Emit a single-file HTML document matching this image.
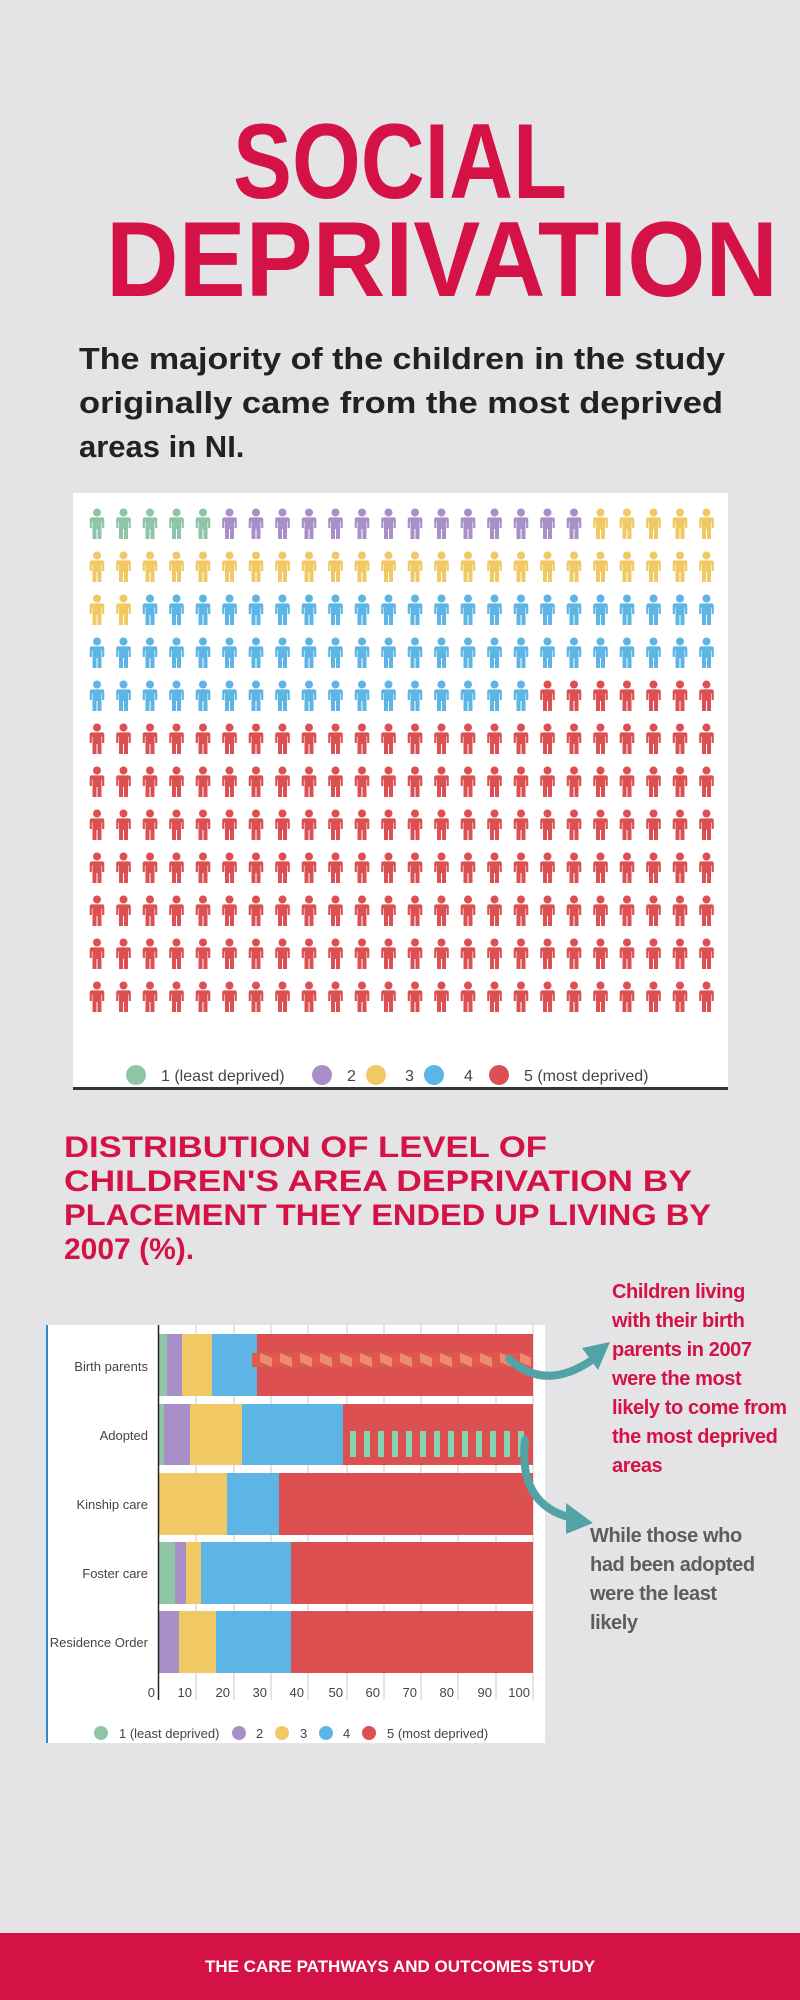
<!DOCTYPE html>
<html><head><meta charset="utf-8"><style>
html,body{margin:0;padding:0;background:#e4e4e6;}
svg{display:block}
</style></head><body>
<svg width="800" height="2000" viewBox="0 0 800 2000" xmlns="http://www.w3.org/2000/svg" font-family="Liberation Sans, sans-serif">
<defs>
<path id="ic" d="M3.2,11.5 Q3.2,9.4 5.3,9.4 H15.7 Q17.8,9.4 17.8,11.5 V20 H15.6 V13.5 H15 V31 H11 V21 H10 V31 H6 V13.5 H5.4 V20 H3.2 Z M10.5,0.5 A4,4 0 1 1 10.49,0.5 Z"/>
<pattern id="pg" patternUnits="userSpaceOnUse" x="86.5" y="508" width="26.5" height="43"><use href="#ic" fill="#8dc5a6"/></pattern>
<pattern id="pp" patternUnits="userSpaceOnUse" x="86.5" y="508" width="26.5" height="43"><use href="#ic" fill="#a98fc7"/></pattern>
<pattern id="py" patternUnits="userSpaceOnUse" x="86.5" y="508" width="26.5" height="43"><use href="#ic" fill="#f0c965"/></pattern>
<pattern id="pb" patternUnits="userSpaceOnUse" x="86.5" y="508" width="26.5" height="43"><use href="#ic" fill="#5cb5e4"/></pattern>
<pattern id="pr" patternUnits="userSpaceOnUse" x="86.5" y="508" width="26.5" height="43"><use href="#ic" fill="#dc5052"/></pattern>
<pattern id="zig" patternUnits="userSpaceOnUse" x="252" y="1353" width="20" height="14"><rect width="20" height="14" fill="#e05a4c"/><polygon points="8,0 20,5 20,14 8,9" fill="#ee8a74"/></pattern>
<pattern id="gb" patternUnits="userSpaceOnUse" x="350" y="1431" width="14" height="26"><rect width="6" height="26" fill="#86d3b0"/></pattern>
</defs>

<!-- Title -->
<text x="233" y="198" font-size="107" font-weight="bold" fill="#d51245" textLength="334" lengthAdjust="spacingAndGlyphs">SOCIAL</text>
<text x="106" y="296" font-size="107" font-weight="bold" fill="#d51245" textLength="672" lengthAdjust="spacingAndGlyphs">DEPRIVATION</text>

<g font-size="31" font-weight="bold" fill="#222">
<text x="79" y="369" textLength="646" lengthAdjust="spacingAndGlyphs">The majority of the children in the study</text>
<text x="79" y="413" textLength="644" lengthAdjust="spacingAndGlyphs">originally came from the most deprived</text>
<text x="79" y="457">areas in NI.</text>
</g>

<!-- Pictogram panel -->
<rect x="73" y="493" width="655" height="597" fill="#fff"/>
<rect x="73" y="1087" width="655" height="3" fill="#333"/>
<rect x="86.5" y="508" width="132.5" height="32" fill="url(#pg)"/>
<rect x="219" y="508" width="371" height="32" fill="url(#pp)"/>
<rect x="590" y="508" width="133" height="32" fill="url(#py)"/>
<rect x="86.5" y="551" width="636" height="32" fill="url(#py)"/>
<rect x="86.5" y="594" width="53" height="32" fill="url(#py)"/>
<rect x="139.5" y="594" width="583" height="32" fill="url(#pb)"/>
<rect x="86.5" y="637" width="636" height="32" fill="url(#pb)"/>
<rect x="86.5" y="680" width="450.5" height="32" fill="url(#pb)"/>
<rect x="537" y="680" width="186" height="32" fill="url(#pr)"/>
<rect x="86.5" y="723" width="636" height="298" fill="url(#pr)"/>
<g font-size="16" fill="#444">
<circle cx="136" cy="1075" r="10" fill="#8dc5a6"/><text x="161" y="1081">1 (least deprived)</text>
<circle cx="322" cy="1075" r="10" fill="#a98fc7"/><text x="347" y="1081">2</text>
<circle cx="376" cy="1075" r="10" fill="#f0c965"/><text x="405" y="1081">3</text>
<circle cx="434" cy="1075" r="10" fill="#5cb5e4"/><text x="464" y="1081">4</text>
<circle cx="499" cy="1075" r="10" fill="#dc5052"/><text x="524" y="1081">5 (most deprived)</text>
</g>

<!-- Heading 2 -->
<g font-size="30" font-weight="bold" fill="#d51245">
<text x="64" y="1157" textLength="483" lengthAdjust="spacingAndGlyphs">DISTRIBUTION OF LEVEL OF</text>
<text x="64" y="1191" textLength="628" lengthAdjust="spacingAndGlyphs">CHILDREN'S AREA DEPRIVATION BY</text>
<text x="64" y="1225" textLength="647" lengthAdjust="spacingAndGlyphs">PLACEMENT THEY ENDED UP LIVING BY</text>
<text x="64" y="1259">2007 (%).</text>
</g>

<!-- Bar chart -->
<rect x="47" y="1325" width="498" height="418" fill="#fff"/>
<rect x="46" y="1325" width="2" height="418" fill="#2a8ac8"/>
<g stroke="#c8c8c8" stroke-width="1">
<line x1="196" y1="1325" x2="196" y2="1700"/><line x1="234" y1="1325" x2="234" y2="1700"/>
<line x1="271" y1="1325" x2="271" y2="1700"/><line x1="308" y1="1325" x2="308" y2="1700"/>
<line x1="347" y1="1325" x2="347" y2="1700"/><line x1="384" y1="1325" x2="384" y2="1700"/>
<line x1="421" y1="1325" x2="421" y2="1700"/><line x1="458" y1="1325" x2="458" y2="1700"/>
<line x1="496" y1="1325" x2="496" y2="1700"/><line x1="533" y1="1325" x2="533" y2="1700"/>
</g>
<!-- Birth parents -->
<rect x="159" y="1334" width="8" height="62" fill="#8dc5a6"/><rect x="167" y="1334" width="15" height="62" fill="#a98fc7"/>
<rect x="182" y="1334" width="30" height="62" fill="#f0c965"/><rect x="212" y="1334" width="45" height="62" fill="#5cb5e4"/>
<rect x="257" y="1334" width="276" height="62" fill="#dc5052"/>
<!-- Adopted -->
<rect x="159" y="1404" width="5" height="61" fill="#8dc5a6"/><rect x="164" y="1404" width="26" height="61" fill="#a98fc7"/>
<rect x="190" y="1404" width="52" height="61" fill="#f0c965"/><rect x="242" y="1404" width="101" height="61" fill="#5cb5e4"/>
<rect x="343" y="1404" width="190" height="61" fill="#dc5052"/>
<!-- Kinship -->
<rect x="159" y="1473" width="68" height="62" fill="#f0c965"/><rect x="227" y="1473" width="52" height="62" fill="#5cb5e4"/>
<rect x="279" y="1473" width="254" height="62" fill="#dc5052"/>
<!-- Foster -->
<rect x="159" y="1542" width="16" height="62" fill="#8dc5a6"/><rect x="175" y="1542" width="11" height="62" fill="#a98fc7"/>
<rect x="186" y="1542" width="15" height="62" fill="#f0c965"/><rect x="201" y="1542" width="90" height="62" fill="#5cb5e4"/>
<rect x="291" y="1542" width="242" height="62" fill="#dc5052"/>
<!-- Residence -->
<rect x="159" y="1611" width="20" height="62" fill="#a98fc7"/><rect x="179" y="1611" width="37" height="62" fill="#f0c965"/>
<rect x="216" y="1611" width="75" height="62" fill="#5cb5e4"/><rect x="291" y="1611" width="242" height="62" fill="#dc5052"/>
<rect x="252" y="1353" width="279" height="14" fill="url(#zig)"/>
<rect x="350" y="1431" width="182" height="26" fill="url(#gb)"/>
<line x1="158.5" y1="1325" x2="158.5" y2="1700" stroke="#222" stroke-width="1.5"/>

<g font-size="13" fill="#444" text-anchor="end">
<text x="148" y="1371">Birth parents</text>
<text x="148" y="1440">Adopted</text>
<text x="148" y="1509">Kinship care</text>
<text x="148" y="1578">Foster care</text>
<text x="148" y="1647">Residence Order</text>
</g>
<g font-size="13" fill="#444" text-anchor="end">
<text x="155" y="1697">0</text><text x="192" y="1697">10</text><text x="230" y="1697">20</text>
<text x="267" y="1697">30</text><text x="304" y="1697">40</text><text x="343" y="1697">50</text>
<text x="380" y="1697">60</text><text x="417" y="1697">70</text><text x="454" y="1697">80</text>
<text x="492" y="1697">90</text><text x="530" y="1697">100</text>
</g>
<g font-size="13" fill="#444">
<circle cx="101" cy="1733" r="7" fill="#8dc5a6"/><text x="119" y="1738">1 (least deprived)</text>
<circle cx="239" cy="1733" r="7" fill="#a98fc7"/><text x="256" y="1738">2</text>
<circle cx="282" cy="1733" r="7" fill="#f0c965"/><text x="300" y="1738">3</text>
<circle cx="326" cy="1733" r="7" fill="#5cb5e4"/><text x="343" y="1738">4</text>
<circle cx="369" cy="1733" r="7" fill="#dc5052"/><text x="387" y="1738">5 (most deprived)</text>
</g>

<!-- Arrows -->
<path d="M509,1359 Q545,1392 592,1360" fill="none" stroke="#52a3a5" stroke-width="8" stroke-linecap="round"/>
<polygon points="582,1348 610,1342 598,1370" fill="#52a3a5"/>
<path d="M525,1440 Q518,1505 572,1518" fill="none" stroke="#52a3a5" stroke-width="8" stroke-linecap="round"/>
<polygon points="566,1503 593,1523 566,1534" fill="#52a3a5"/>

<!-- Annotations -->
<g font-size="20" font-weight="bold" fill="#d51245" letter-spacing="-0.4">
<text x="612" y="1298">Children living</text>
<text x="612" y="1327">with their birth</text>
<text x="612" y="1356">parents in 2007</text>
<text x="612" y="1385">were the most</text>
<text x="612" y="1414">likely to come from</text>
<text x="612" y="1443">the most deprived</text>
<text x="612" y="1472">areas</text>
</g>
<g font-size="20" font-weight="bold" fill="#5d5d5d" letter-spacing="-0.4">
<text x="590" y="1542">While those who</text>
<text x="590" y="1571">had been adopted</text>
<text x="590" y="1600">were the least</text>
<text x="590" y="1629">likely</text>
</g>

<!-- Footer -->
<rect x="0" y="1933" width="800" height="67" fill="#d51245"/>
<text x="400" y="1972" font-size="17" font-weight="bold" fill="#fff" text-anchor="middle">THE CARE PATHWAYS AND OUTCOMES STUDY</text>
</svg>
</body></html>
